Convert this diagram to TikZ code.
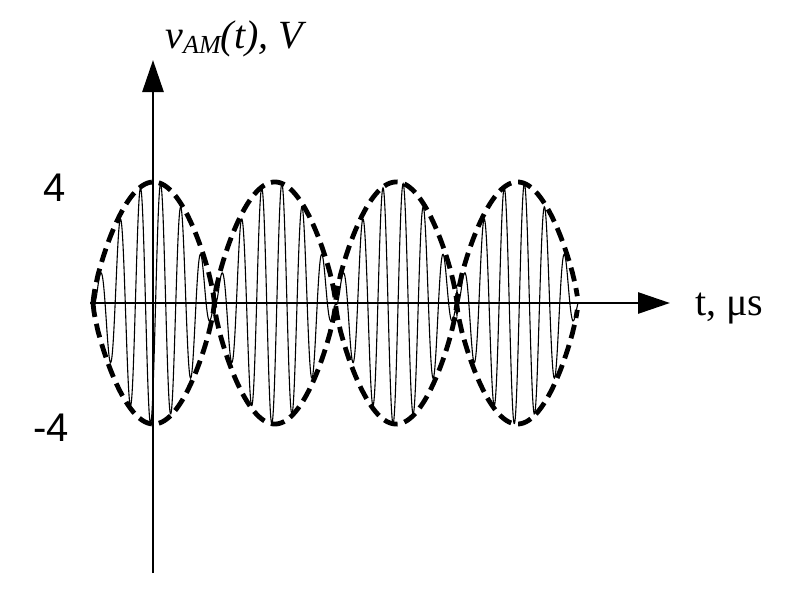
\documentclass[tikz,border=0pt]{standalone}
\usepackage{fontspec}
\setmainfont{Liberation Serif}
\newfontfamily\arialf{Liberation Sans}
\usetikzlibrary{arrows.meta}
\begin{document}
\begin{tikzpicture}[x=0.5pt,y=-0.5pt,
  axis/.style={line width=1.4pt,-{Triangle[length=16pt,width=10.5pt]}},
  carrier/.style={line width=0.55pt},
  envelope/.style={line width=2.4pt,dash pattern=on 7pt off 3.5pt},
  lbl/.style={font=\fontsize{20pt}{24pt}\selectfont, inner sep=0pt},
  num/.style={font=\arialf\fontsize{20pt}{24pt}\selectfont, inner sep=0pt}]
\useasboundingbox (0,0) rectangle (793,595);
\coordinate (ybot) at (153,573);
\coordinate (ytop) at (153,60);
\coordinate (xl) at (90,303);
\coordinate (xr) at (670,303);
% carrier
\draw[carrier] plot[domain=0:4, samples=1201] ({93+121.25*\x},{303-121*pow(abs(sin(180*\x))+0.00001,0.85)*sin(2160*\x-35)});
% envelope
\draw[envelope] plot[domain=0:4, samples=600] ({93+121.25*\x},{303-121*pow(abs(sin(180*\x))+0.00001,0.72)});
\draw[envelope] plot[domain=0:4, samples=600] ({93+121.25*\x},{303+121*pow(abs(sin(180*\x))+0.00001,0.72)});
% axes
\draw[axis] (ybot) -- (ytop);
\draw[axis] (xl) -- (xr);
% labels
\node[lbl, anchor=base west] (vlab) at (165,48) {\itshape v\raisebox{-0.13em}{\fontsize{13pt}{15pt}\selectfont AM}(t), V};
\node[lbl, anchor=base west] (tlab) at (695,315) {t, μs};
\node[num] (four) at (54.5,187.5) {4};
\node[num] (mfour) at (51,428) {-4};
\end{tikzpicture}
\end{document}
